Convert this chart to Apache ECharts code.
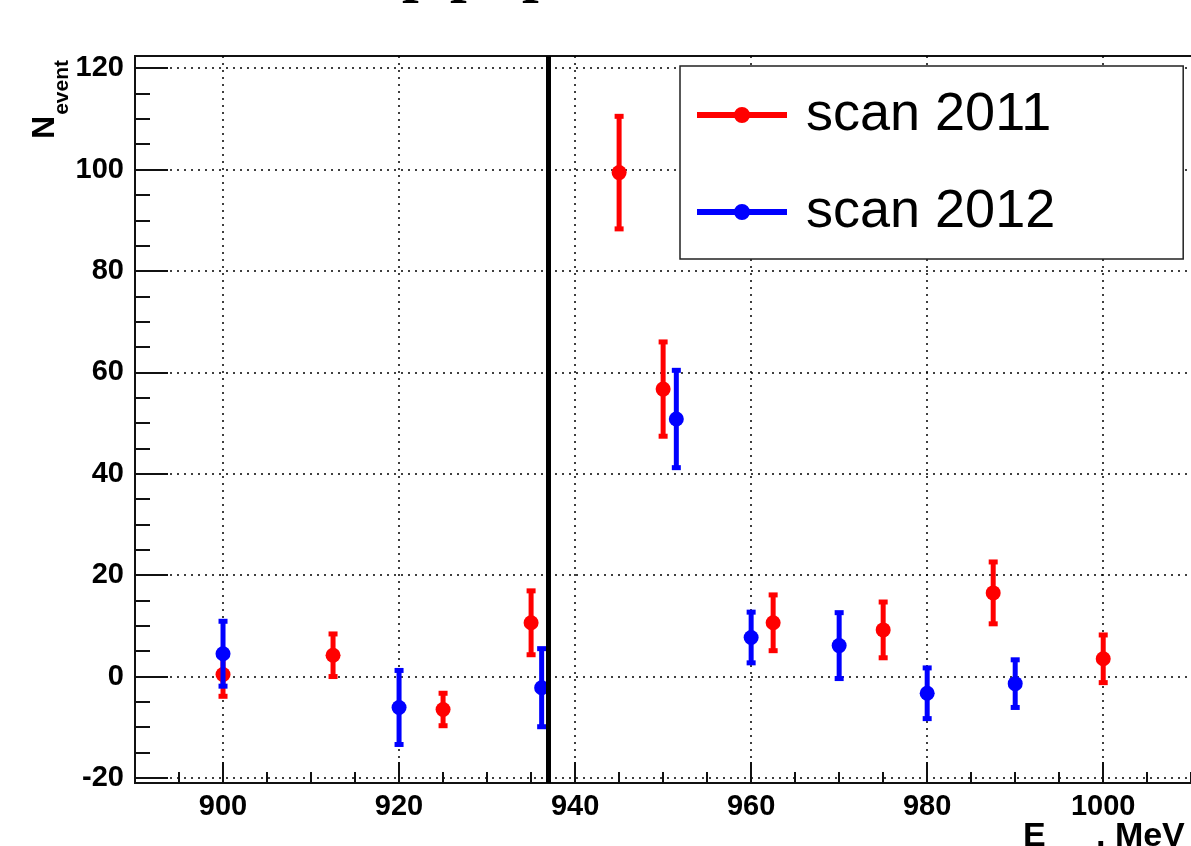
<!DOCTYPE html>
<html>
<head>
<meta charset="utf-8">
<title>scan 2011 / 2012</title>
<script src="https://cdn.jsdelivr.net/npm/echarts@6/dist/echarts.min.js"></script>
<style>
html,body{margin:0;padding:0;background:#fff;}
#main{width:1191px;height:846px;}
</style>
</head>
<body>
<div id="main"></div>
<script>
// 2011 扫描数据
var energy2011 = [900, 912.5, 925, 935, 945, 950, 962.5, 975, 987.5, 1000];
var events2011 = [0.4, 4.2, -6.5, 10.6, 99.4, 56.7, 10.6, 9.2, 16.5, 3.5];
var errors2011 = [4.3, 4.2, 3.2, 6.3, 11.1, 9.3, 5.5, 5.5, 6.1, 4.7];
// 2012 扫描数据
var energy2012 = [900, 920, 936.2, 951.5, 960, 970, 980, 990];
var events2012 = [4.5, -6.1, -2.2, 50.8, 7.7, 6.1, -3.3, -1.4];
var errors2012 = [6.4, 7.3, 7.7, 9.6, 5.0, 6.5, 5.0, 4.7];
// 阈值竖线
var thresholdE = 937;
// 刻度
var xTickLabels = [900, 920, 940, 960, 980, 1000];
var yTickLabels = [-20, 0, 20, 40, 60, 80, 100, 120];

var xMin = 890, xMax = 1010.2, yMin = -21, yMax = 122.4;
var fontName = '"Liberation Sans", Arial, sans-serif';
var frameColor = '#111';

// 小刻度 (每5)
var xMinorTicks = [], yMinorTicks = [];
for (var v = 895; v <= 1010; v += 5) { xMinorTicks.push(v); }
for (var w = -20; w <= 120; w += 5) { yMinorTicks.push(w); }

function buildData(xs, ys, es) {
    var out = [];
    for (var i = 0; i < xs.length; i++) {
        out.push([xs[i], ys[i], es[i]]);
    }
    return out;
}

// 误差棒 + 圆点
function renderErrorPoint(params, api) {
    var x = api.value(0), y = api.value(1), e = api.value(2);
    var c = api.coord([x, y]);
    var hi = api.coord([x, y + e]);
    var lo = api.coord([x, y - e]);
    var color = api.visual('color');
    return {
        type: 'group',
        children: [
            {type: 'line', shape: {x1: c[0], y1: hi[1], x2: c[0], y2: lo[1]}, style: {stroke: color, lineWidth: 5}},
            {type: 'rect', shape: {x: c[0] - 4.5, y: hi[1] - 2.5, width: 9, height: 5}, style: {fill: color}},
            {type: 'rect', shape: {x: c[0] - 4.5, y: lo[1] - 2.5, width: 9, height: 5}, style: {fill: color}},
            {type: 'circle', shape: {cx: c[0], cy: c[1], r: 7.5}, style: {fill: color}}
        ]
    };
}

var legendIcon = 'path://M0,5H90V11H0Z M45,0A8,8 0 1 1 44.99,0Z';
var dotted = {type: [2, 5], color: '#000', width: 1.5};

var myChart = echarts.init(document.getElementById('main'), null, {renderer: 'canvas'});

var option = {
    backgroundColor: '#fff',
    animation: false,
    grid: [
        {left: 135, top: 56, right: -2, bottom: 63, show: true, borderColor: frameColor, borderWidth: 2, backgroundColor: 'transparent', containLabel: false, outerBoundsMode: 'none'},
        {left: 135, top: 56, right: -2, bottom: 63, show: false, containLabel: false, outerBoundsMode: 'none'}
    ],
    xAxis: [
        {
            gridIndex: 0, type: 'value', min: xMin, max: xMax,
            axisLine: {show: true, onZero: false, lineStyle: {color: frameColor, width: 2}},
            axisTick: {show: true, inside: true, length: 11, customValues: xMinorTicks, lineStyle: {color: frameColor, width: 2}},
            axisLabel: {
                customValues: xTickLabels, margin: 9, color: '#000', fontFamily: fontName, fontWeight: 'bold', fontSize: 29,
                formatter: function (val) { return String(val); }
            },
            splitLine: {show: false}
        },
        {
            gridIndex: 1, type: 'value', min: xMin, max: xMax,
            axisLine: {show: false, onZero: false},
            axisTick: {show: true, inside: true, length: 21, customValues: xTickLabels, lineStyle: {color: frameColor, width: 2}},
            axisLabel: {show: false},
            splitLine: {show: true, lineStyle: dotted}
        }
    ],
    yAxis: [
        {
            gridIndex: 0, type: 'value', min: yMin, max: yMax,
            axisLine: {show: true, onZero: false, lineStyle: {color: frameColor, width: 2}},
            axisTick: {show: true, inside: true, length: 15, customValues: yMinorTicks, lineStyle: {color: frameColor, width: 2}},
            axisLabel: {
                customValues: yTickLabels, margin: 11, color: '#000', fontFamily: fontName, fontWeight: 'bold', fontSize: 29,
                formatter: function (val) { return String(val); }
            },
            splitLine: {show: false}
        },
        {
            gridIndex: 1, type: 'value', min: yMin, max: yMax,
            axisLine: {show: false, onZero: false},
            axisTick: {show: true, inside: true, length: 33, customValues: yTickLabels, lineStyle: {color: frameColor, width: 2}},
            axisLabel: {show: false},
            splitLine: {show: true, lineStyle: dotted}
        }
    ],
    legend: {
        orient: 'vertical', left: 680, top: 66,
        padding: [22, 128, 20, 17], itemGap: 43, itemWidth: 90, itemHeight: 16,
        backgroundColor: '#fff', borderColor: '#222', borderWidth: 1.5, borderRadius: 0,
        selectedMode: false,
        textStyle: {fontFamily: fontName, fontSize: 54, lineHeight: 54, color: '#000', padding: [0, 0, 0, 14]},
        data: [{name: 'scan 2011', icon: legendIcon}, {name: 'scan 2012', icon: legendIcon}]
    },
    graphic: [
        // 标题 (被截掉, 只剩下半部分)
        {type: 'text', x: 402, y: -26, style: {text: 'p', font: 'bold 60px "Liberation Serif"', fill: '#000', align: 'left', verticalAlign: 'middle'}},
        {type: 'text', x: 450, y: -26, style: {text: 'p', font: 'bold 60px "Liberation Serif"', fill: '#000', align: 'left', verticalAlign: 'middle'}},
        {type: 'text', x: 522, y: -26, style: {text: 'p', font: 'bold 60px "Liberation Serif"', fill: '#000', align: 'left', verticalAlign: 'middle'}},
        // y轴名称 N_event
        {type: 'text', x: 45, y: 116, rotation: Math.PI / 2, style: {text: 'N', font: 'bold 32px "Liberation Sans"', fill: '#000', align: 'right', verticalAlign: 'middle'}},
        {type: 'text', x: 62.5, y: 60, rotation: Math.PI / 2, style: {text: 'event', font: 'bold 21px "Liberation Sans"', fill: '#000', align: 'right', verticalAlign: 'middle'}},
        // x轴名称 E_beam, MeV
        {type: 'text', x: 1023, y: 837, style: {text: 'E', font: 'bold 34px "Liberation Sans"', fill: '#000', align: 'left', verticalAlign: 'middle'}},
        {type: 'text', x: 1047, y: 866, style: {text: 'beam', font: 'bold 22px "Liberation Sans"', fill: '#000', align: 'left', verticalAlign: 'middle'}},
        {type: 'text', x: 1096, y: 837, style: {text: ', MeV', font: 'bold 34px "Liberation Sans"', fill: '#000', align: 'left', verticalAlign: 'middle'}}
    ],
    series: [
        {
            name: 'scan 2011', type: 'custom', xAxisIndex: 0, yAxisIndex: 0,
            itemStyle: {color: '#ff0000'},
            renderItem: renderErrorPoint,
            data: buildData(energy2011, events2011, errors2011),
            z: 3,
            markLine: {
                silent: true, symbol: ['none', 'none'], label: {show: false},
                lineStyle: {color: '#000', width: 5, type: 'solid'},
                data: [{xAxis: thresholdE}]
            }
        },
        {
            name: 'scan 2012', type: 'custom', xAxisIndex: 0, yAxisIndex: 0,
            itemStyle: {color: '#0000ff'},
            renderItem: renderErrorPoint,
            data: buildData(energy2012, events2012, errors2012),
            z: 3
        }
    ]
};

myChart.setOption(option);
</script>
</body>
</html>
